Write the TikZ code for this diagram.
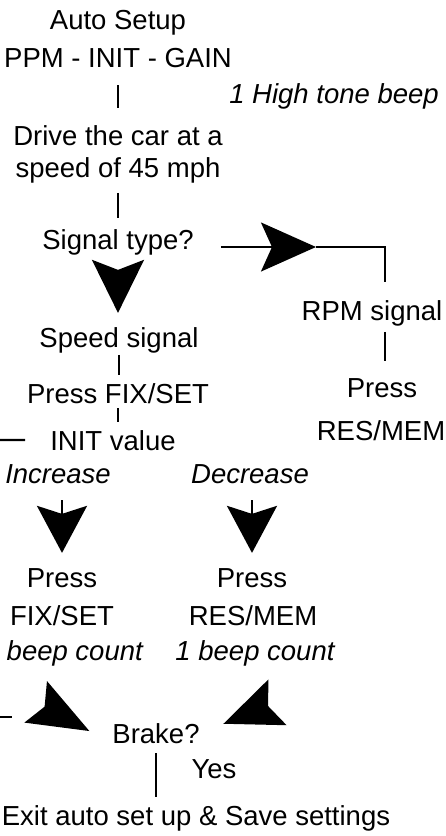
\documentclass[tikz,border=0pt]{standalone}
\usepackage{fontspec}
\setmainfont{Liberation Sans}
\usetikzlibrary{arrows.meta}

\tikzset{
  txt/.style={inner sep=0pt, anchor=base, font=\fontsize{27.5}{33}\selectfont},
  itxt/.style={txt, font=\fontsize{27.5}{33}\selectfont\itshape},
  link/.style={line width=2.2pt},
  bighead/.style n args={3}{link, -{Stealth[length=#1, width=#2, inset=#3]}},
}

\begin{document}
\begin{tikzpicture}[x=1pt, y=-1pt]
\useasboundingbox (0,0) rectangle (446,836);
\node[txt] (auto) at (118,29) {Auto Setup};
\node[txt] (ppm) at (118,67) {PPM - INIT - GAIN};
\node[itxt] (high) at (334,103) {1 High tone beep};
\node[txt] (drive) at (118,145) {Drive the car at a};
\node[txt] (speedof) at (118,177) {speed of 45 mph};
\node[txt] (signal) at (118,249) {Signal type?};
\node[txt] (speedsig) at (119,347) {Speed signal};
\node[txt] (pressfix) at (118,403) {Press FIX/SET};
\node[txt] (init) at (113,450) {INIT value};
\node[txt] (rpm) at (372,320) {RPM signal};
\node[txt] (pressres) at (382,397) {Press};
\node[txt] (resmem) at (381,440) {RES/MEM};
\node[itxt] (inc) at (58,483) {Increase};
\node[itxt] (dec) at (250,483) {Decrease};
\node[txt] (pressl) at (62,587) {Press};
\node[txt] (pressr) at (252,587) {Press};
\node[txt] (fixset) at (62,625) {FIX/SET};
\node[txt] (resmemr) at (253,625) {RES/MEM};
\node[itxt, anchor=base east] (beepl) at (143,660) {beep count};
\node[itxt] (beepr) at (255,660) {1 beep count};
\node[txt] (brake) at (156,743) {Brake?};
\node[txt] (yes) at (214,778) {Yes};
\node[txt] (exit) at (196,825) {Exit auto set up \& Save settings};

\coordinate (turn) at (385,247);
\coordinate (rtip) at (316,247);
\coordinate (edgeinit) at (0,440);
\coordinate (edgebrake) at (0,717);
\coordinate (fromleft) at (36,702);
\coordinate (fromright) at (277,702.5);

\draw[link, shorten <=18pt, shorten >=17pt] (ppm.south) -- (drive.north);
\draw[link, shorten <=10pt, shorten >=11pt] (speedof.south) -- (speedof.south |- signal.north);
\draw[bighead={53pt}{52pt}{10pt}, shorten <=15pt, shorten >=14pt] (signal.south) -- (signal.south |- speedsig.north);
\draw[bighead={55pt}{49pt}{11pt}, shorten <=27pt] (signal.east |- rtip) -- (rtip);
\draw[link, shorten >=18pt] (rtip) -- (turn) -- (turn |- rpm.north);
\draw[link, shorten <=2pt, shorten >=8pt] (speedsig.south) -- (speedsig.south |- pressfix.north);
\draw[link, shorten <=5pt, shorten >=8pt] (pressfix.south) -- (pressfix.south |- init.north);
\draw[link, shorten <=6pt, shorten >=17pt] (turn |- rpm.south) -- (turn |- pressres.north);
\draw[link, shorten <=25pt] (init.west) -- (edgeinit);
\draw[bighead={47pt}{50pt}{8pt}, shorten <=17pt, shorten >=15pt] (pressl |- inc.south) -- (pressl.north);
\draw[bighead={47pt}{50pt}{8pt}, shorten <=17pt, shorten >=15pt] (pressr |- dec.south) -- (pressr.north);
\draw[bighead={61pt}{47pt}{10pt}, shorten <=10pt, shorten >=26pt] (fromleft) -- (brake.south west);
\draw[bighead={58pt}{49pt}{10pt}, shorten <=10pt, shorten >=25.5pt] (fromright) -- (brake.east);
\draw[link] (edgebrake) -- ++(12,0);
\draw[link, shorten <=10pt, shorten >=8pt] (brake.south) -- (brake.south |- exit.north);
\end{tikzpicture}
\end{document}
